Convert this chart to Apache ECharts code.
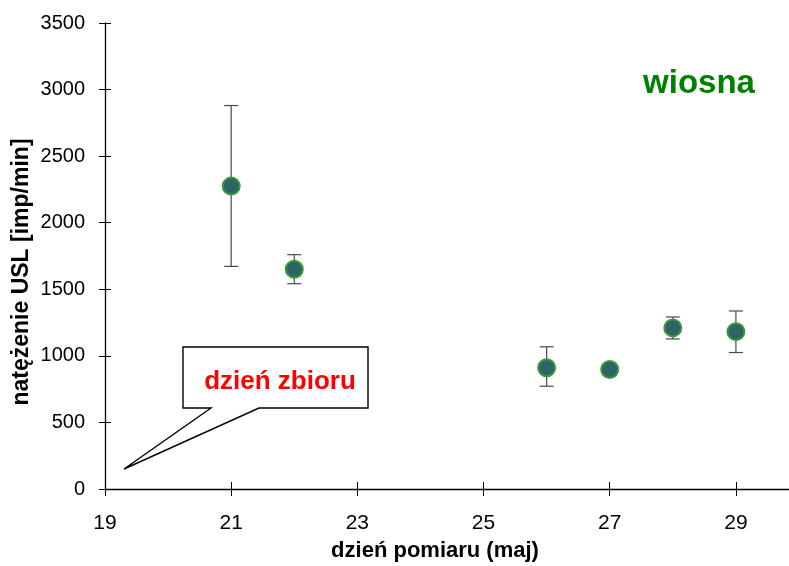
<!DOCTYPE html>
<html>
<head>
<meta charset="utf-8">
<script src="https://cdn.jsdelivr.net/npm/echarts@6/dist/echarts.min.js"></script>
<style>
  html, body { margin: 0; padding: 0; background: #fff; }
  #chart { width: 789px; height: 566px; }
</style>
</head>
<body>
<div id="chart"></div>
<script>
// Measurement days (May) and mean USL intensity with error range
const days = [21, 22, 26, 27, 28, 29];
const means = [2275, 1650, 910, 897, 1210, 1182];
const errLow = [1672, 1542, 772, 889, 1127, 1025];
const errHigh = [2880, 1760, 1068, 905, 1292, 1337];

const xTicks = { min: 19, max: 30, interval: 2 };
const yTicks = { min: 0, max: 3500, interval: 500 };

const FONT = '"Liberation Sans", Arial, sans-serif';

const chart = echarts.init(document.getElementById('chart'), null, { renderer: 'canvas' });

const errorData = days.map((d, i) => [d, errLow[i], errHigh[i]]);
const pointData = days.map((d, i) => [d, means[i]]);

// plot box: the x range runs slightly past the right edge of the canvas
const PLOT = { left: 105, top: 23, width: 694, height: 466 };
const TICK_X = 7, TICK_Y = 6;
const gridCommon = { outerBoundsMode: 'none', containLabel: false };

const baseX = {
  type: 'value', min: xTicks.min, max: xTicks.max, interval: xTicks.interval
};
const baseY = {
  type: 'value', min: yTicks.min, max: yTicks.max, interval: yTicks.interval
};
const axisLineStyle = { show: true, onZero: false, lineStyle: { color: '#000', width: 1.3 } };
const tickLine = { color: '#000', width: 1 };
const bare = { axisLine: { show: false }, axisTick: { show: false }, axisLabel: { show: false } };

chart.setOption({
  animation: false,
  backgroundColor: '#ffffff',
  grid: [
    Object.assign({}, gridCommon, PLOT),
    // thin strip above the x axis: its grid lines form the inner half of the x ticks
    Object.assign({}, gridCommon, { left: PLOT.left, top: PLOT.top + PLOT.height - TICK_X, width: PLOT.width, height: TICK_X }),
    // thin strip right of the y axis: inner half of the y ticks
    Object.assign({}, gridCommon, { left: PLOT.left, top: PLOT.top, width: TICK_Y, height: PLOT.height })
  ],
  xAxis: [
    Object.assign({}, baseX, {
      gridIndex: 0,
      splitLine: { show: false },
      axisLine: axisLineStyle,
      axisTick: { show: true, inside: false, length: TICK_X, lineStyle: tickLine },
      axisLabel: {
        color: '#000', fontFamily: FONT, fontSize: 21, margin: 24,
        formatter: v => (v <= 29 ? String(v) : '')
      }
    }),
    Object.assign({}, baseX, bare, { gridIndex: 1, splitLine: { show: true, lineStyle: tickLine } }),
    Object.assign({}, baseX, bare, { gridIndex: 2, splitLine: { show: false } })
  ],
  yAxis: [
    Object.assign({}, baseY, {
      gridIndex: 0,
      splitLine: { show: false },
      axisLine: axisLineStyle,
      axisTick: { show: true, inside: false, length: TICK_Y, lineStyle: tickLine },
      axisLabel: { color: '#000', fontFamily: FONT, fontSize: 20, margin: 20, formatter: v => String(v) }
    }),
    Object.assign({}, baseY, bare, { gridIndex: 1, splitLine: { show: false } }),
    Object.assign({}, baseY, bare, { gridIndex: 2, splitLine: { show: true, lineStyle: tickLine } })
  ],
  series: [
    {
      type: 'custom',
      xAxisIndex: 0, yAxisIndex: 0,
      data: errorData,
      z: 1,
      renderItem: function (params, api) {
        const x = api.value(0);
        const lo = api.coord([x, api.value(1)]);
        const hi = api.coord([x, api.value(2)]);
        const cap = 7;
        const style = { stroke: '#4a4a4a', lineWidth: 1.2 };
        return {
          type: 'group',
          children: [
            { type: 'line', shape: { x1: lo[0], y1: lo[1], x2: hi[0], y2: hi[1] }, style: style },
            { type: 'line', shape: { x1: hi[0] - cap, y1: hi[1], x2: hi[0] + cap, y2: hi[1] }, style: style },
            { type: 'line', shape: { x1: lo[0] - cap, y1: lo[1], x2: lo[0] + cap, y2: lo[1] }, style: style }
          ]
        };
      }
    },
    {
      type: 'scatter',
      xAxisIndex: 0, yAxisIndex: 0,
      data: pointData,
      z: 5,
      symbol: 'circle',
      symbolSize: 17,
      itemStyle: { color: '#2f6466', borderColor: '#3a9a3a', borderWidth: 2, opacity: 1 }
    },
    // the tick strips carry no marks of their own
    { type: 'scatter', xAxisIndex: 1, yAxisIndex: 1, data: [], silent: true },
    { type: 'scatter', xAxisIndex: 2, yAxisIndex: 2, data: [], silent: true }
  ],
  graphic: [
    {
      type: 'polygon',
      z: 10,
      shape: {
        points: [[183, 347], [368, 347], [368, 408], [259, 408], [124, 469], [211, 408], [183, 408]]
      },
      style: { fill: '#ffffff', stroke: '#000', lineWidth: 1.4 }
    },
    {
      type: 'text',
      z: 11,
      x: 280, y: 382,
      style: {
        text: 'dzień zbioru', fill: '#ff0000', font: 'bold 26px ' + FONT,
        textAlign: 'center', textVerticalAlign: 'middle'
      }
    },
    {
      type: 'text',
      z: 11,
      x: 699, y: 84,
      style: {
        text: 'wiosna', fill: '#008000', font: 'bold 33px ' + FONT,
        textAlign: 'center', textVerticalAlign: 'middle'
      }
    },
    {
      type: 'text',
      z: 11,
      x: 435, y: 551,
      style: {
        text: 'dzień pomiaru (maj)', fill: '#000', font: 'bold 22px ' + FONT,
        textAlign: 'center', textVerticalAlign: 'middle'
      }
    },
    {
      type: 'text',
      z: 11,
      x: 22, y: 272,
      rotation: Math.PI / 2,
      style: {
        text: 'natężenie USL [imp/min]', fill: '#000', font: 'bold 23px ' + FONT,
        textAlign: 'center', textVerticalAlign: 'middle'
      }
    }
  ]
});
</script>
</body>
</html>
